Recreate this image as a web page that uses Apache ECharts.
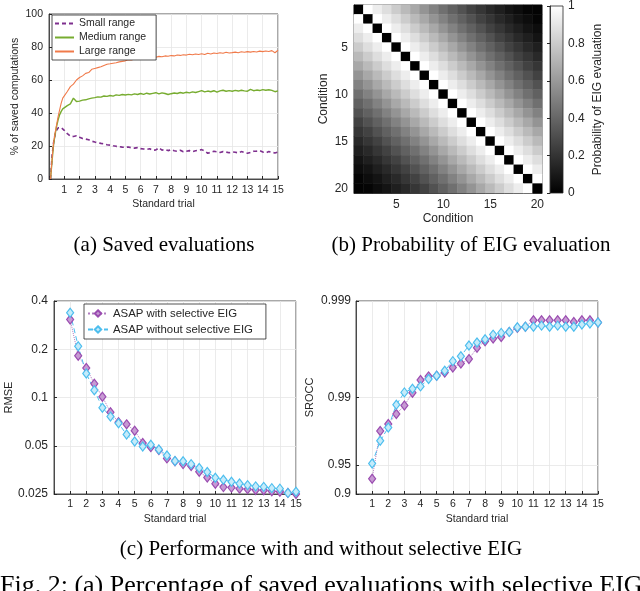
<!DOCTYPE html>
<html>
<head>
<meta charset="utf-8">
<script src="https://cdn.jsdelivr.net/npm/echarts@6/dist/echarts.min.js"></script>
<style>
  html, body { margin: 0; padding: 0; background: #fff; }
  #chart { width: 640px; height: 591px; }
</style>
</head>
<body>
<div id="chart"></div>
<script>
// (a) saved evaluations
const trialA = [
  0.1, 0.2, 0.3, 0.4, 0.5, 0.6, 0.7, 0.8, 0.9, 1.0,
  1.2, 1.4, 1.6, 1.8, 2.0, 2.2, 2.4, 2.6, 2.8, 3.0,
  3.2, 3.4, 3.6, 3.8, 4.0, 4.2, 4.4, 4.6, 4.8, 5.0,
  5.2, 5.4, 5.6, 5.8, 6.0, 6.2, 6.4, 6.6, 6.8, 7.0,
  7.2, 7.4, 7.6, 7.8, 8.0, 8.2, 8.4, 8.6, 8.8, 9.0,
  9.2, 9.4, 9.6, 9.8, 10.0, 10.2, 10.4, 10.6, 10.8, 11.0,
  11.2, 11.4, 11.6, 11.8, 12.0, 12.2, 12.4, 12.6, 12.8, 13.0,
  13.2, 13.4, 13.6, 13.8, 14.0, 14.2, 14.4, 14.6, 14.8, 15.0
];
const smallRange = [
  0, 14, 22, 27, 29.5, 31, 31.7, 31.2, 30.3, 29.5,
  27.5, 26, 25.8, 26.2, 25.3, 24.5, 24.2, 23.8, 22.9, 22.4,
  22, 21.6, 21.3, 20.8, 20.5, 20.1, 19.8, 19.6, 19.3, 19.2,
  19.4, 18.9, 18.7, 19, 18.4, 18.2, 17.9, 18.3, 17.4, 17.6,
  18.9, 17.5, 17.9, 17.2, 17.8, 17.1, 16.8, 17.4, 16.5, 16.8,
  17.2, 16.6, 17.1, 17.5, 17.8, 16.9, 15.6, 16.2, 16.8, 16.5,
  16.1, 16.6, 16.3, 15.9, 16.4, 16.2, 15.8, 16.6, 16, 15.6,
  16.1, 16.8, 16.9, 17.2, 16.4, 15.9, 16.6, 16.2, 15.8, 16.3
];
const mediumRange = [
  0, 11, 21, 27, 32, 36, 39, 41, 42.5, 43.5,
  44.5, 45.5, 49, 47, 47.2, 47.8, 48, 48.6, 49, 49.3,
  49.8, 49.6, 50.3, 50.1, 50.6, 50.2, 51, 50.7, 51.2, 50.9,
  51.3, 51, 51.6, 51.2, 51.8, 51.3, 52, 51.5, 51.9, 52.3,
  51.6, 52.2, 51.8, 51.2, 51.7, 52.1, 51.8, 52.4, 52, 52.6,
  52.2, 52.8, 52.4, 53, 53.6, 52.8, 53.3, 52.9, 53.5, 52.6,
  53.4, 53.8, 53.2, 53.6, 53.2, 53.7, 53.3, 53.8, 53.4, 53.2,
  54.3, 53.5, 53.9, 53.6, 54.2, 53.8, 54.1, 53.7, 52.9, 53.4
];
const largeRange = [
  0, 12, 22, 28, 33, 38, 42, 46, 49, 50,
  53, 56, 57.5, 60, 61.5, 62.5, 64, 64.5, 66.5, 67,
  67.5, 68, 68.8, 69.5, 69.8, 70.2, 70.5, 71, 71.3, 71.6,
  72.3, 72.1, 72.8, 73.2, 73, 73.6, 73.2, 73.9, 74.2, 73.8,
  74.3, 74.1, 74.6, 74.4, 74.8, 74.6, 75.2, 74.9, 75.3, 75.1,
  75.6, 75.3, 75.8, 75.5, 75.9, 75.4, 76.2, 75.8, 76.4, 76.1,
  76.5, 76.2, 76.8, 76.4, 76.6, 76.9, 76.5, 77.1, 76.8, 77.2,
  76.9, 77.3, 77, 77.5, 77.2, 77.6, 77.3, 77.8, 76.5, 78
];

// (b) probability of EIG evaluation, row = condition (top to bottom), col = condition
const conditions = ['1','2','3','4','5','6','7','8','9','10','11','12','13','14','15','16','17','18','19','20'];
const probRows = [
  [0, 1.00, 0.93, 0.87, 0.80, 0.73, 0.66, 0.58, 0.51, 0.44, 0.38, 0.32, 0.26, 0.21, 0.16, 0.12, 0.08, 0.05, 0.02, 0.01],
  [1.00, 0, 1.00, 0.93, 0.87, 0.80, 0.73, 0.66, 0.58, 0.51, 0.44, 0.38, 0.32, 0.26, 0.21, 0.16, 0.12, 0.08, 0.05, 0.02],
  [0.93, 1.00, 0, 1.00, 0.93, 0.87, 0.80, 0.73, 0.66, 0.58, 0.51, 0.44, 0.38, 0.32, 0.26, 0.21, 0.16, 0.12, 0.08, 0.05],
  [0.87, 0.93, 1.00, 0, 1.00, 0.93, 0.87, 0.80, 0.73, 0.66, 0.58, 0.51, 0.44, 0.38, 0.32, 0.26, 0.21, 0.16, 0.12, 0.08],
  [0.80, 0.87, 0.93, 1.00, 0, 1.00, 0.93, 0.87, 0.80, 0.73, 0.66, 0.58, 0.51, 0.44, 0.38, 0.32, 0.26, 0.21, 0.16, 0.12],
  [0.73, 0.80, 0.87, 0.93, 1.00, 0, 1.00, 0.93, 0.87, 0.80, 0.73, 0.66, 0.58, 0.51, 0.44, 0.38, 0.32, 0.26, 0.21, 0.16],
  [0.66, 0.73, 0.80, 0.87, 0.93, 1.00, 0, 1.00, 0.93, 0.87, 0.80, 0.73, 0.66, 0.58, 0.51, 0.44, 0.38, 0.32, 0.26, 0.21],
  [0.58, 0.66, 0.73, 0.80, 0.87, 0.93, 1.00, 0, 1.00, 0.93, 0.87, 0.80, 0.73, 0.66, 0.58, 0.51, 0.44, 0.38, 0.32, 0.26],
  [0.51, 0.58, 0.66, 0.73, 0.80, 0.87, 0.93, 1.00, 0, 1.00, 0.93, 0.87, 0.80, 0.73, 0.66, 0.58, 0.51, 0.44, 0.38, 0.32],
  [0.44, 0.51, 0.58, 0.66, 0.73, 0.80, 0.87, 0.93, 1.00, 0, 1.00, 0.93, 0.87, 0.80, 0.73, 0.66, 0.58, 0.51, 0.44, 0.38],
  [0.38, 0.44, 0.51, 0.58, 0.66, 0.73, 0.80, 0.87, 0.93, 1.00, 0, 1.00, 0.93, 0.87, 0.80, 0.73, 0.66, 0.58, 0.51, 0.44],
  [0.32, 0.38, 0.44, 0.51, 0.58, 0.66, 0.73, 0.80, 0.87, 0.93, 1.00, 0, 1.00, 0.93, 0.87, 0.80, 0.73, 0.66, 0.58, 0.51],
  [0.26, 0.32, 0.38, 0.44, 0.51, 0.58, 0.66, 0.73, 0.80, 0.87, 0.93, 1.00, 0, 1.00, 0.93, 0.87, 0.80, 0.73, 0.66, 0.58],
  [0.21, 0.26, 0.32, 0.38, 0.44, 0.51, 0.58, 0.66, 0.73, 0.80, 0.87, 0.93, 1.00, 0, 1.00, 0.93, 0.87, 0.80, 0.73, 0.66],
  [0.16, 0.21, 0.26, 0.32, 0.38, 0.44, 0.51, 0.58, 0.66, 0.73, 0.80, 0.87, 0.93, 1.00, 0, 1.00, 0.93, 0.87, 0.80, 0.73],
  [0.12, 0.16, 0.21, 0.26, 0.32, 0.38, 0.44, 0.51, 0.58, 0.66, 0.73, 0.80, 0.87, 0.93, 1.00, 0, 1.00, 0.93, 0.87, 0.80],
  [0.08, 0.12, 0.16, 0.21, 0.26, 0.32, 0.38, 0.44, 0.51, 0.58, 0.66, 0.73, 0.80, 0.87, 0.93, 1.00, 0, 1.00, 0.93, 0.87],
  [0.05, 0.08, 0.12, 0.16, 0.21, 0.26, 0.32, 0.38, 0.44, 0.51, 0.58, 0.66, 0.73, 0.80, 0.87, 0.93, 1.00, 0, 1.00, 0.93],
  [0.02, 0.05, 0.08, 0.12, 0.16, 0.21, 0.26, 0.32, 0.38, 0.44, 0.51, 0.58, 0.66, 0.73, 0.80, 0.87, 0.93, 1.00, 0, 1.00],
  [0.01, 0.02, 0.05, 0.08, 0.12, 0.16, 0.21, 0.26, 0.32, 0.38, 0.44, 0.51, 0.58, 0.66, 0.73, 0.80, 0.87, 0.93, 1.00, 0]
];

// (c) performance with and without selective EIG
const trialC = [1, 1.5, 2, 2.5, 3, 3.5, 4, 4.5, 5, 5.5, 6, 6.5, 7, 7.5, 8, 8.5, 9, 9.5, 10, 10.5, 11, 11.5, 12, 12.5, 13, 13.5, 14, 14.5, 15];
const rmseWith = [0.307, 0.182, 0.153, 0.122, 0.101, 0.081, 0.070, 0.068, 0.062, 0.052, 0.049, 0.047, 0.0417, 0.040, 0.0384,
  0.0374, 0.0344, 0.0317, 0.029, 0.0276, 0.0274, 0.027, 0.0268, 0.0265, 0.0264, 0.026, 0.0258, 0.0254, 0.025];
const rmseWithout = [0.338, 0.209, 0.141, 0.111, 0.0864, 0.076, 0.069, 0.0587, 0.0531, 0.0495, 0.0507, 0.0474, 0.0435, 0.0402, 0.040,
  0.0384, 0.0363, 0.0343, 0.0316, 0.0307, 0.0298, 0.0291, 0.0284, 0.0279, 0.0277, 0.0272, 0.027, 0.0254, 0.0258];
const sroccWith = [0.9305, 0.9778, 0.9812, 0.9852, 0.9879, 0.99109, 0.99341, 0.99396, 0.99404, 0.99450, 0.99512, 0.99556, 0.9960, 0.99695, 0.99739,
  0.99755, 0.99764, 0.99791, 0.99810, 0.99815, 0.99842, 0.99842, 0.99842, 0.99842, 0.99842, 0.99835, 0.99842, 0.99842, 0.99833];
const sroccWithout = [0.9518, 0.9719, 0.9795, 0.98814, 0.99115, 0.99189, 0.99233, 0.99356, 0.99404, 0.99472, 0.9958, 0.99627, 0.99711, 0.99731, 0.99751,
  0.99777, 0.99786, 0.99791, 0.99813, 0.99815, 0.99815, 0.9982, 0.99815, 0.9982, 0.99815, 0.99815, 0.99825, 0.99829, 0.99833];

const rmseTicks = [0.025, 0.05, 0.1, 0.2, 0.4];
const sroccTicks = [0.9, 0.95, 0.99, 0.999];

const FONT = '"Liberation Sans", Arial, Helvetica, sans-serif';
const SERIF = '"Liberation Serif", "Times New Roman", serif';
const AX = '#262626';
const GRIDLINE = '#e6e6e6';

// SROCC axis is stretched like MATLAB's: -log10(1 - srocc)
const sroccT = v => -Math.log10(1 - v);

const pairs = (xs, ys) => xs.map((x, i) => [x, ys[i]]);

let heatData = [];
probRows.forEach((row, r) => {
  row.forEach((v, c) => heatData.push([c, r, v]));
});

function trialAxis(gridIndex, fontSize, margin) {
  return {
    type: 'value', gridIndex: gridIndex, min: 0, max: 15, interval: 1,
    axisLine: { lineStyle: { color: AX, width: 0.8 } },
    axisTick: { inside: true, length: 3, lineStyle: { color: AX } },
    axisLabel: { color: AX, fontSize: fontSize, fontFamily: FONT, margin: margin,
      formatter: v => (v === 0 ? '' : String(v)) },
    splitLine: { show: true, lineStyle: { color: GRIDLINE, width: 0.8 } },
    name: 'Standard trial', nameLocation: 'middle', nameGap: 20,
    nameTextStyle: { color: AX, fontSize: fontSize, fontFamily: FONT }
  };
}

const tickEvery5 = idx => (idx + 1) % 5 === 0;
const captionStyle = { fontFamily: SERIF, fontSize: 21, fontWeight: 'normal', color: '#000' };

let chart = echarts.init(document.getElementById('chart'));
let option = {
  animation: false,
  backgroundColor: '#fff',
  title: [
    { text: '(a) Saved evaluations', left: 164, top: 235, textAlign: 'center', padding: 0, textStyle: captionStyle },
    { text: '(b) Probability of EIG evaluation', left: 471, top: 235, textAlign: 'center', padding: 0, textStyle: captionStyle },
    { text: '(c) Performance with and without selective EIG', left: 321, top: 539, textAlign: 'center', padding: 0, textStyle: captionStyle },
    { text: 'Fig. 2: (a) Percentage of saved evaluations with selective EIG', left: 0, top: 573, padding: 0,
      textStyle: { fontFamily: SERIF, fontSize: 26, fontWeight: 'normal', color: '#000' } }
  ],
  legend: [
    {
      data: ['Small range', 'Medium range', 'Large range'],
      orient: 'vertical', left: 52, top: 15,
      itemWidth: 19, itemHeight: 8, itemGap: 3,
      padding: [3, 10, 3, 2],
      itemStyle: { opacity: 0 },
      borderColor: AX, borderWidth: 0.8, backgroundColor: '#fff', borderRadius: 0,
      textStyle: { fontFamily: FONT, fontSize: 10.5, color: AX }
    },
    {
      data: ['ASAP with selective EIG', 'ASAP without selective EIG'],
      orient: 'vertical', left: 84, top: 304,
      itemWidth: 20, itemHeight: 8, itemGap: 5,
      padding: [4, 13, 4, 3],
      borderColor: AX, borderWidth: 0.8, backgroundColor: '#fff', borderRadius: 0,
      textStyle: { fontFamily: FONT, fontSize: 11.4, color: AX }
    }
  ],
  grid: [
    { left: 49, top: 14, width: 229, height: 165, show: true, borderColor: AX, borderWidth: 0.8, backgroundColor: '#fff' },
    { left: 354, top: 5, width: 188, height: 188, show: true, borderColor: AX, borderWidth: 0.8 },
    { left: 550, top: 5, width: 13, height: 188, show: true, borderColor: AX, borderWidth: 0.8,
      backgroundColor: new echarts.graphic.LinearGradient(0, 0, 0, 1, [
        { offset: 0, color: '#ffffff' }, { offset: 1, color: '#000000' }]) },
    { left: 54, top: 301, width: 242, height: 193, show: true, borderColor: AX, borderWidth: 0.8, backgroundColor: '#fff' },
    { left: 356, top: 301, width: 242, height: 193, show: true, borderColor: AX, borderWidth: 0.8, backgroundColor: '#fff' }
  ],
  xAxis: [
    trialAxis(0, 10.5, 6),
    {
      type: 'category', gridIndex: 1, data: conditions,
      axisLine: { lineStyle: { color: AX, width: 0.8 } },
      axisTick: { inside: true, length: 3, alignWithLabel: true, interval: tickEvery5, lineStyle: { color: AX } },
      axisLabel: { interval: tickEvery5, color: AX, fontSize: 12, fontFamily: FONT, margin: 6 },
      name: 'Condition', nameLocation: 'middle', nameGap: 20,
      nameTextStyle: { color: AX, fontSize: 12, fontFamily: FONT }
    },
    { type: 'value', gridIndex: 2, min: 0, max: 1, show: false },
    trialAxis(3, 10.5, 5),
    trialAxis(4, 10.5, 5)
  ],
  yAxis: [
    {
      type: 'value', gridIndex: 0, min: 0, max: 100, interval: 20,
      axisLine: { lineStyle: { color: AX, width: 0.8 } },
      axisTick: { inside: true, length: 3, lineStyle: { color: AX } },
      axisLabel: { color: AX, fontSize: 10.5, fontFamily: FONT, margin: 6 },
      splitLine: { show: true, lineStyle: { color: GRIDLINE, width: 0.8 } },
      name: '% of saved computations', nameLocation: 'middle', nameGap: 28,
      nameTextStyle: { color: AX, fontSize: 10.5, fontFamily: FONT }
    },
    {
      type: 'category', gridIndex: 1, data: conditions, inverse: true,
      axisLine: { lineStyle: { color: AX, width: 0.8 } },
      axisTick: { inside: true, length: 3, alignWithLabel: true, interval: tickEvery5, lineStyle: { color: AX } },
      axisLabel: { interval: tickEvery5, color: AX, fontSize: 12, fontFamily: FONT, margin: 6 },
      name: 'Condition', nameLocation: 'middle', nameGap: 24,
      nameTextStyle: { color: AX, fontSize: 12, fontFamily: FONT }
    },
    {
      type: 'value', gridIndex: 2, min: 0, max: 1, interval: 0.2, position: 'right',
      axisLine: { lineStyle: { color: AX, width: 0.8 } },
      axisTick: { inside: true, length: 3, lineStyle: { color: AX } },
      axisLabel: { color: AX, fontSize: 12, fontFamily: FONT, margin: 5 },
      splitLine: { show: false },
      name: 'Probability of EIG evaluation', nameLocation: 'middle', nameGap: 29, nameRotate: 90,
      nameTextStyle: { color: AX, fontSize: 12, fontFamily: FONT }
    },
    {
      type: 'log', logBase: 2, gridIndex: 3, min: 0.025, max: 0.4,
      axisLine: { lineStyle: { color: AX, width: 0.8 } },
      axisTick: { inside: true, length: 3, customValues: rmseTicks, lineStyle: { color: AX } },
      axisLabel: { customValues: rmseTicks, color: AX, fontSize: 12, fontFamily: FONT, margin: 6,
        formatter: v => String(+(+v).toPrecision(3)) },
      splitLine: { show: true, lineStyle: { color: GRIDLINE, width: 0.8 } },
      name: 'RMSE', nameLocation: 'middle', nameGap: 40,
      nameTextStyle: { color: AX, fontSize: 11, fontFamily: FONT }
    },
    {
      type: 'value', gridIndex: 4, min: sroccT(0.9), max: sroccT(0.999),
      axisLine: { lineStyle: { color: AX, width: 0.8 } },
      axisTick: { inside: true, length: 3, customValues: sroccTicks.map(sroccT), lineStyle: { color: AX } },
      axisLabel: { customValues: sroccTicks.map(sroccT), color: AX, fontSize: 12, fontFamily: FONT, margin: 5,
        formatter: v => String(+(1 - Math.pow(10, -v)).toFixed(3)) },
      splitLine: { show: true, lineStyle: { color: GRIDLINE, width: 0.8 } },
      name: 'SROCC', nameLocation: 'middle', nameGap: 41,
      nameTextStyle: { color: AX, fontSize: 11, fontFamily: FONT }
    }
  ],
  visualMap: {
    show: false, type: 'continuous', min: 0, max: 1, seriesIndex: 3,
    inRange: { color: ['#000000', '#ffffff'] }
  },
  series: [
    { name: 'Small range', type: 'line', xAxisIndex: 0, yAxisIndex: 0, symbol: 'none',
      data: pairs(trialA, smallRange), color: '#7e2f8e',
      lineStyle: { color: '#7e2f8e', width: 1.6, type: [4, 3] } },
    { name: 'Medium range', type: 'line', xAxisIndex: 0, yAxisIndex: 0, symbol: 'none',
      data: pairs(trialA, mediumRange), color: '#77ac30',
      lineStyle: { color: '#77ac30', width: 1.4 } },
    { name: 'Large range', type: 'line', xAxisIndex: 0, yAxisIndex: 0, symbol: 'none',
      data: pairs(trialA, largeRange), color: '#f07a4a',
      lineStyle: { color: '#f07a4a', width: 1.1 } },
    { name: 'Probability', type: 'heatmap', xAxisIndex: 1, yAxisIndex: 1, data: heatData,
      itemStyle: { borderWidth: 0 }, progressive: 0 },
    { name: 'ASAP with selective EIG', type: 'line', xAxisIndex: 3, yAxisIndex: 3,
      data: pairs(trialC, rmseWith), symbol: 'diamond', symbolSize: [7, 9],
      color: '#9a4cb0',
      itemStyle: { color: '#c79ad3', borderColor: '#9a4cb0', borderWidth: 1.2 },
      lineStyle: { color: '#b07cc0', width: 1, type: 'dotted' } },
    { name: 'ASAP without selective EIG', type: 'line', xAxisIndex: 3, yAxisIndex: 3,
      data: pairs(trialC, rmseWithout), symbol: 'diamond', symbolSize: [7, 9],
      color: '#4dbeee',
      itemStyle: { color: '#c5ebfa', borderColor: '#4dbeee', borderWidth: 1.2 },
      lineStyle: { color: '#4dbeee', width: 1, type: [5, 3] } },
    { name: 'ASAP with selective EIG', type: 'line', xAxisIndex: 4, yAxisIndex: 4,
      data: pairs(trialC, sroccWith.map(sroccT)), symbol: 'diamond', symbolSize: [7, 9],
      color: '#9a4cb0',
      itemStyle: { color: '#c79ad3', borderColor: '#9a4cb0', borderWidth: 1.2 },
      lineStyle: { color: '#b07cc0', width: 1, type: 'dotted' } },
    { name: 'ASAP without selective EIG', type: 'line', xAxisIndex: 4, yAxisIndex: 4,
      data: pairs(trialC, sroccWithout.map(sroccT)), symbol: 'diamond', symbolSize: [7, 9],
      color: '#4dbeee',
      itemStyle: { color: '#c5ebfa', borderColor: '#4dbeee', borderWidth: 1.2 },
      lineStyle: { color: '#4dbeee', width: 1, type: [5, 3] } }
  ]
};
chart.setOption(option);
window.addEventListener('resize', function () {
  chart.resize();
});
</script>
</body>
</html>
